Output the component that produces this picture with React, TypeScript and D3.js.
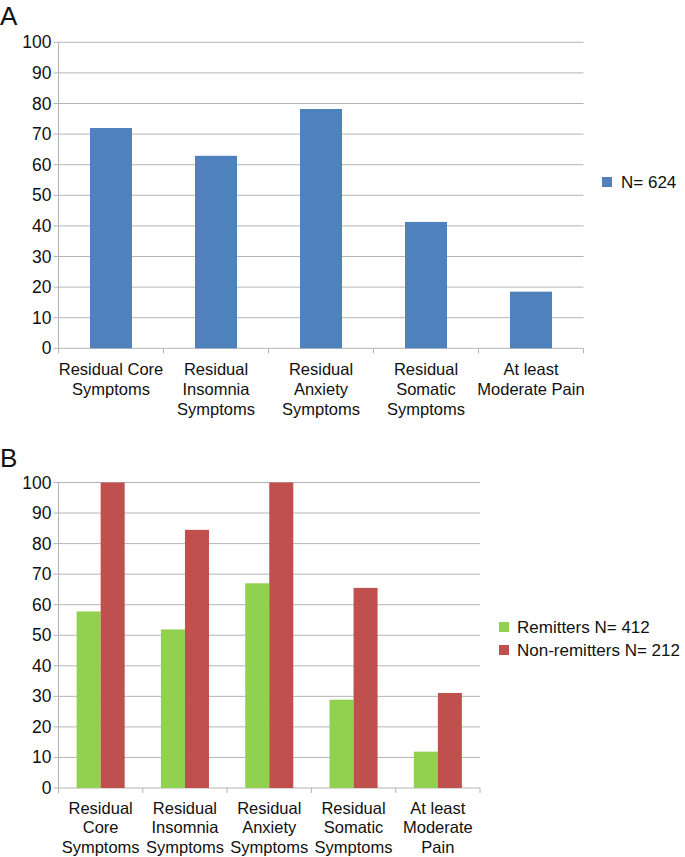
import React from "react";
import * as d3 from "d3";

const categoriesA = [
  ["Residual Core", "Symptoms"],
  ["Residual", "Insomnia", "Symptoms"],
  ["Residual", "Anxiety", "Symptoms"],
  ["Residual", "Somatic", "Symptoms"],
  ["At least", "Moderate Pain"],
];
const categoriesB = [
  ["Residual", "Core", "Symptoms"],
  ["Residual", "Insomnia", "Symptoms"],
  ["Residual", "Anxiety", "Symptoms"],
  ["Residual", "Somatic", "Symptoms"],
  ["At least", "Moderate", "Pain"],
];
const valuesA = [72, 62.9, 78.2, 41.3, 18.5];
const remitters = [57.8, 51.9, 67.0, 28.9, 11.9];
const nonRemitters = [100, 84.5, 100, 65.5, 31.1];
const yTicks = [0, 10, 20, 30, 40, 50, 60, 70, 80, 90, 100];
const legendA = ["N= 624"];
const legendB = ["Remitters N= 412", "Non-remitters N= 212"];

const BLUE = "#4F81BD";
const GREEN = "#92D050";
const RED = "#C0504D";
const FONT = "'Liberation Sans', Arial, Helvetica, sans-serif";
const GRID = "#b4b4b4";

function Axes({ x, y, labels, lineH, labelY }: any) {
  const [x0, x1] = x.range();
  const domain = x.domain();
  return (
    <g>
      {yTicks.map((t) => (
        <g key={t}>
          <line x1={x0 - 5} x2={x1} y1={y(t)} y2={y(t)} stroke={GRID} strokeWidth={1} />
          <text x={x0 - 7} y={y(t) + 6} textAnchor="end" fontSize={17.5} fontFamily={FONT} fill="#111">
            {t}
          </text>
        </g>
      ))}
      <line x1={x0} x2={x0} y1={y(100)} y2={y(0)} stroke={GRID} strokeWidth={1} />
      {domain.map((d: number) => (
        <line key={"t" + d} x1={x(d)} x2={x(d)} y1={y(0)} y2={y(0) + 5} stroke={GRID} />
      ))}
      <line x1={x1} x2={x1} y1={y(0)} y2={y(0) + 5} stroke={GRID} />
      {domain.map((d: number) => (
        <text key={"l" + d} textAnchor="middle" fontSize={16.5} fontFamily={FONT} fill="#111">
          {labels[d].map((s: string, i: number) => (
            <tspan key={i} x={x(d) + x.bandwidth() / 2} y={labelY + i * lineH}>
              {s}
            </tspan>
          ))}
        </text>
      ))}
    </g>
  );
}

export default function App() {
  const idx = d3.range(5);
  const xA = d3.scaleBand<number>().domain(idx).range([58.5, 583.5]).padding(0);
  const yA = d3.scaleLinear().domain([0, 100]).range([348.3, 42.3]);
  const barWA = xA.bandwidth() * 0.4;

  const xB = d3.scaleBand<number>().domain(idx).range([58.5, 480]).padding(0);
  const yB = d3.scaleLinear().domain([0, 100]).range([788, 482.5]);
  const groupW = xB.bandwidth() * 0.57;
  const xSub = d3.scaleBand<number>().domain([0, 1]).range([0, groupW]);
  const seriesB = [remitters, nonRemitters];
  const colorsB = [GREEN, RED];

  return (
    <svg
      width={685}
      height={857}
      style={{ position: "absolute", left: 0, top: 0, background: "#fff" }}
    >
      <rect width={685} height={857} fill="#fff" />
      <text x={0} y={25} fontSize={26} fontFamily={FONT} fill="#111">A</text>
      <text x={0} y={466.5} fontSize={26} fontFamily={FONT} fill="#111">B</text>

      <Axes x={xA} y={yA} labels={categoriesA} lineH={20} labelY={375} />
      {valuesA.map((v, i) => (
        <rect
          key={i}
          x={xA(i)! + (xA.bandwidth() - barWA) / 2}
          width={barWA}
          y={yA(v)}
          height={yA(0) - yA(v)}
          fill={BLUE}
        />
      ))}
      {legendA.map((s, i) => (
        <g key={s}>
          <rect x={602} y={177} width={10} height={10} fill={BLUE} />
          <text x={621} y={188} fontSize={17} fontFamily={FONT} fill="#111">{s}</text>
        </g>
      ))}

      <Axes x={xB} y={yB} labels={categoriesB} lineH={19.3} labelY={814} />
      {seriesB.map((vals, s) =>
        vals.map((v, i) => (
          <rect
            key={s + "-" + i}
            x={xB(i)! + (xB.bandwidth() - groupW) / 2 + xSub(s)!}
            width={xSub.bandwidth()}
            y={yB(v)}
            height={yB(0) - yB(v)}
            fill={colorsB[s]}
          />
        ))
      )}
      {legendB.map((s, i) => (
        <g key={s}>
          <rect x={499} y={622 + i * 23} width={10} height={10} fill={colorsB[i]} />
          <text x={517} y={633 + i * 23} fontSize={17} fontFamily={FONT} fill="#111">{s}</text>
        </g>
      ))}
    </svg>
  );
}
